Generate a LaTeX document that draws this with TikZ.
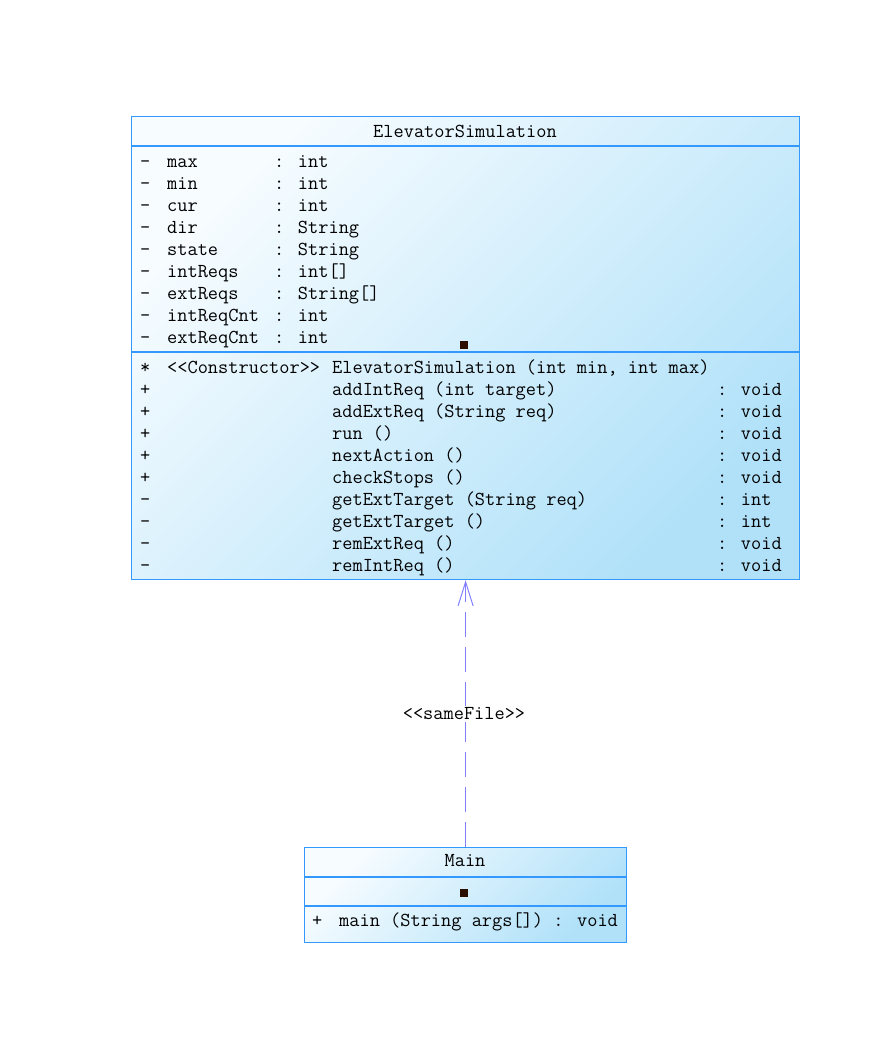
\documentclass[tikz,border=0pt]{standalone}
\usepackage{tikz}
\usetikzlibrary{positioning,arrows.meta}
\definecolor{UmlBorder}{HTML}{3399FF}
\definecolor{UmlLight}{HTML}{F7FCFF}
\definecolor{UmlDark}{HTML}{B0E1F9}
\definecolor{UmlArrow}{HTML}{8080FF}
\definecolor{UmlMark}{HTML}{2B0E00}

\begin{document}
\begin{tikzpicture}[x=1pt, y=-1pt,
  every node/.style={font=\ttfamily\fontsize{19.8}{22}\selectfont, inner sep=0pt, anchor=base west},
  classbox/.style={draw=UmlBorder, line width=1.2pt, top color=UmlLight, bottom color=UmlDark, shading angle=45, anchor=north west},
  classline/.style={draw=UmlBorder, line width=1.2pt},
  marker/.style={fill=UmlMark, minimum size=8pt, anchor=center},
  dep/.style={draw=UmlArrow, line width=1pt, dash pattern=on 25pt off 10pt, -{Straight Barb[length=24pt, width=15pt]}}]
  \useasboundingbox (0,0) rectangle (893,1052);

  % ElevatorSimulation class
  \node[classbox, minimum width=668pt, minimum height=463pt] (es) at (131,116) {};
  \draw[classline] (131,146) -- (799,146);
  \draw[classline] (131,352) -- (799,352);
  \node[anchor=base] (esname) at (465,137) {ElevatorSimulation};
  \foreach \nm/\ty [count=\i] in {max/int, min/int, cur/int, dir/String, state/String, intReqs/int[], extReqs/String[], intReqCnt/int, extReqCnt/int}{
    \node (apre\i) at (140,145+22*\i) {—};
    \node (aname\i) at (167,145+22*\i) {\nm};
    \node (atype\i) at (274,145+22*\i) {: \ty};
  }
  \node[marker] (esmark) at (464,345) {};
  \node (cpre) at (140,373) {*};
  \node (cster) at (167,373) {{<}{<}Constructor{>}{>}};
  \node (cname) at (332,373) {ElevatorSimulation (int min, int max)};
  \foreach \vis/\op/\ret [count=\i] in {+/addIntReq (int target)/void, +/addExtReq (String req)/void, +/run ()/void, +/nextAction ()/void, +/checkStops ()/void, —/getExtTarget (String req)/int, —/getExtTarget ()/int, —/remExtReq ()/void, —/remIntReq ()/void}{
    \node (mpre\i) at (140,373+22*\i) {\vis};
    \node (mname\i) at (332,373+22*\i) {\op};
    \node (mret\i) at (717,373+22*\i) {: \ret};
  }

  % Main class
  \node[classbox, minimum width=322pt, minimum height=95pt] (main) at (304,847) {};
  \draw[classline] (304,877) -- (626,877);
  \draw[classline] (304,906) -- (626,906);
  \node[anchor=base] (mainname) at (465,866) {Main};
  \node[marker] (mainmark) at (464,893) {};
  \node (mainpre) at (312,926) {+};
  \node (mainop) at (339,926) {main (String args[]) : void};

  % dependency
  \draw[dep] (main.north) -- (es.south);
  \node[anchor=center, fill=white, inner sep=2pt] (samefile) at (464,714) {{<}{<}sameFile{>}{>}};
\end{tikzpicture}
\end{document}
